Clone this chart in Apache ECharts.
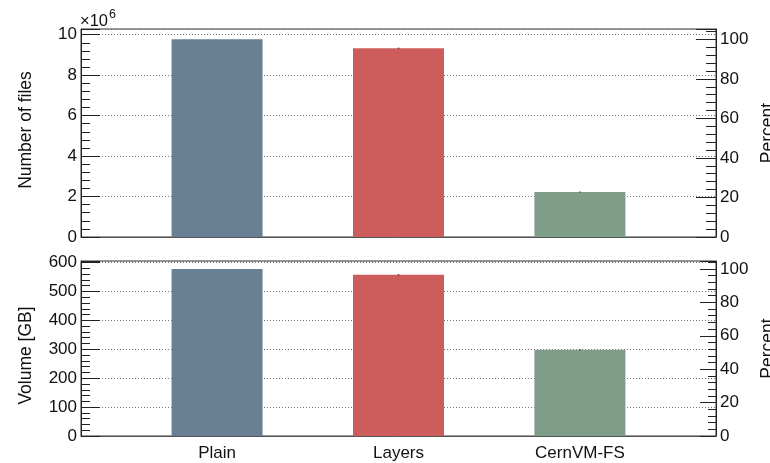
<!DOCTYPE html>
<html>
<head>
<meta charset="utf-8">
<style>
  html, body { margin: 0; padding: 0; background: #fff; }
  #chart { width: 770px; height: 463px; }
</style>
<script src="https://cdn.jsdelivr.net/npm/echarts@6/dist/echarts.min.js"></script>
</head>
<body>
<div id="chart"></div>
<script>
const categories = ['Plain', 'Layers', 'CernVM-FS'];
const fileCounts = [9770000, 9330000, 2220000];
const fileErrors = [0, 30000, 25000];
const volumeGB = [578, 558, 298];
const volumeErrors = [0, 2, 2];
const barColors = ['#687f94', '#cd5c5d', '#7f9e8a'];
const filesAxisMax = 10280000;
const volumeAxisMax = 605.5;

const FONT = 'Liberation Sans, Arial, Helvetica, sans-serif';
const txt = { fontFamily: FONT, fontSize: 17, color: '#111' };

const chart = echarts.init(document.getElementById('chart'), null, { renderer: 'canvas' });

function barData(vals) {
  return vals.map((v, i) => ({ value: [i, v], itemStyle: { color: barColors[i] } }));
}
function errData(vals, errs) {
  return vals.map((v, i) => [i, v - errs[i], v + errs[i]]);
}
function errRender(params, api) {
  const x = api.value(0);
  const lo = api.coord([x, api.value(1)]);
  const hi = api.coord([x, api.value(2)]);
  if (Math.abs(lo[1] - hi[1]) < 0.5) return null;
  return {
    type: 'line',
    shape: { x1: lo[0], y1: lo[1], x2: hi[0], y2: hi[1] },
    style: { stroke: '#333', lineWidth: 1.5 }
  };
}

const plainFiles = fileCounts[0];
const plainVol = volumeGB[0];

function xAxisDef(gridIndex, showLabels) {
  return {
    type: 'value', gridIndex, min: -0.75, max: 2.75,
    axisLine: { show: true, onZero: false, lineStyle: { color: '#555', width: 1 } },
    axisTick: { show: false },
    splitLine: { show: false },
    axisLabel: showLabels ? {
      show: true, customValues: [0, 1, 2],
      formatter: v => categories[Math.round(v)] || '',
      margin: 9, ...txt
    } : { show: false }
  };
}

function leftY(gridIndex, max, interval, fmt, name, padding) {
  return {
    type: 'value', gridIndex, position: 'left', min: 0, max, interval,
    name, nameLocation: 'middle', nameGap: 46,
    nameTextStyle: { ...txt, fontSize: 17.5, padding },
    axisLine: { show: true, onZero: false, lineStyle: { color: '#222', width: 1 } },
    axisTick: { show: true, inside: true, length: 19, lineStyle: { color: '#222', width: 1 } },
    minorTick: { show: true, splitNumber: 5, length: 9, lineStyle: { color: '#222', width: 1 } },
    axisLabel: { show: true, margin: 4, formatter: fmt, showMaxLabel: false, ...txt },
    splitLine: { show: true, lineStyle: { color: '#777', type: [1, 2], width: 1 } }
  };
}

function rightY(gridIndex, max, majorLen, minorLen) {
  return {
    type: 'value', gridIndex, position: 'right', min: 0, max, interval: 20,
    name: 'Percent', nameLocation: 'middle', nameGap: 42,
    nameTextStyle: { ...txt, fontSize: 17.5 },
    axisLine: { show: true, onZero: false, lineStyle: { color: '#222', width: 1 } },
    axisTick: { show: true, inside: true, length: majorLen, lineStyle: { color: '#222', width: 1 } },
    minorTick: { show: true, splitNumber: 5, length: minorLen, lineStyle: { color: '#222', width: 1 } },
    axisLabel: { show: true, margin: 4, showMaxLabel: false, ...txt },
    splitLine: { show: false }
  };
}

const option = {
  backgroundColor: '#fff',
  animation: false,
  grid: [
    { left: 81, right: 54, top: 29, height: 208, show: true, borderColor: '#333', borderWidth: 1, backgroundColor: 'transparent', outerBoundsMode: 'none', containLabel: false },
    { left: 81, right: 54, top: 261, height: 175, show: true, borderColor: '#333', borderWidth: 1, backgroundColor: 'transparent', outerBoundsMode: 'none', containLabel: false }
  ],
  xAxis: [ xAxisDef(0, false), xAxisDef(1, true) ],
  yAxis: [
    leftY(0, filesAxisMax, 2000000, v => String(Math.round(v / 1e6)), 'Number of files', [0, 0, 0, 6]),
    rightY(0, filesAxisMax / plainFiles * 100, 20, 10),
    leftY(1, volumeAxisMax, 100, v => String(v), 'Volume [GB]', [0, 14, 0, 0]),
    rightY(1, volumeAxisMax / plainVol * 100, 16, 8)
  ],
  graphic: [
    {
      type: 'text', left: 80, top: 8,
      style: {
        text: '{a|×10}{b|6}',
        rich: {
          a: { fontFamily: FONT, fontSize: 16.5, fill: '#111', verticalAlign: 'bottom', padding: [4, 0, 0, 0] },
          b: { fontFamily: FONT, fontSize: 12.5, fill: '#111', verticalAlign: 'top', padding: [0, 0, 9, 1] }
        }
      }
    }
  ],
  series: [
    { type: 'bar', xAxisIndex: 0, yAxisIndex: 0, barWidth: 91, data: barData(fileCounts), z: 3 },
    { type: 'custom', xAxisIndex: 0, yAxisIndex: 0, renderItem: errRender, data: errData(fileCounts, fileErrors), z: 4 },
    { type: 'bar', xAxisIndex: 1, yAxisIndex: 2, barWidth: 91, data: barData(volumeGB), z: 3 },
    { type: 'custom', xAxisIndex: 1, yAxisIndex: 2, renderItem: errRender, data: errData(volumeGB, volumeErrors), z: 4 }
  ]
};
chart.setOption(option);
</script>
</body>
</html>
